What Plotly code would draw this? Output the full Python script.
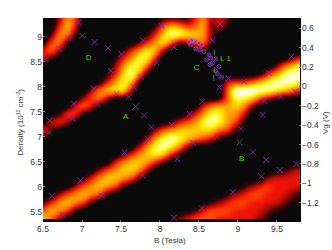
import numpy as np
import plotly.graph_objects as go

# Conductance map, levels 0-9 (rows top to bottom)
Z_ROWS = [
[0,0,2,5,4,0,0,0,0,0,0,0,0,0,0,1,1,1,1,3,5,2,3,2,0,0,0,0,0,0,0,0,0],
[0,0,3,6,3,0,0,0,0,0,0,0,0,0,1,4,6,5,3,4,6,1,3,1,0,0,0,0,0,0,0,0,0],
[0,1,5,5,1,0,0,0,0,0,0,0,0,1,3,6,8,8,7,6,5,2,0,0,0,0,0,0,0,0,0,0,0],
[0,4,5,1,0,0,0,0,0,0,0,0,1,3,5,7,4,1,2,4,5,1,0,0,0,0,0,0,0,0,0,0,0],
[3,5,2,0,0,0,0,0,0,0,1,3,5,7,6,2,0,0,0,0,1,0,0,0,0,0,0,0,0,0,0,0,0],
[3,1,0,0,0,0,0,0,0,1,3,5,7,7,3,0,0,0,0,0,0,0,0,0,0,0,0,0,0,0,0,1,3],
[0,0,0,0,0,0,0,0,0,2,5,7,7,4,0,0,0,0,0,0,0,0,0,0,0,0,0,0,0,1,4,6,7],
[0,0,0,0,0,0,0,0,1,3,6,8,5,0,0,0,0,0,0,0,0,0,0,0,0,0,0,0,3,5,7,8,8],
[0,0,0,0,0,0,0,0,3,5,7,6,0,0,0,0,0,0,0,0,0,0,0,3,3,3,4,6,7,8,8,8,7],
[0,0,0,0,0,0,2,5,6,7,7,2,0,0,0,0,0,0,0,0,0,0,0,4,9,9,9,8,8,7,6,5,3],
[0,0,0,0,0,2,4,5,2,0,0,0,0,0,0,0,0,0,0,0,0,0,0,4,7,7,6,4,2,1,0,0,0],
[0,0,0,0,3,5,3,0,0,0,0,0,0,0,0,0,0,0,0,0,3,5,6,5,6,5,2,0,0,0,0,0,0],
[0,0,1,4,4,0,0,0,0,0,0,0,0,0,0,0,0,0,1,3,5,7,7,5,5,3,0,0,0,0,0,0,0],
[0,3,4,2,0,0,0,0,0,0,0,0,0,0,0,0,1,3,4,5,7,8,7,5,4,1,0,0,0,0,0,0,0],
[4,1,0,0,0,0,0,0,0,0,0,0,0,0,2,4,5,6,6,6,6,6,4,4,1,0,0,0,0,0,0,0,0],
[1,0,0,0,0,0,0,0,0,0,0,0,0,2,5,7,8,7,6,5,4,3,1,0,0,0,0,0,0,0,0,0,0],
[0,0,0,0,0,0,0,0,0,0,0,0,2,5,7,8,7,5,2,0,0,0,0,0,0,0,0,0,0,0,0,0,0],
[0,0,0,0,0,0,0,0,0,0,1,3,5,6,7,6,3,1,0,0,0,0,0,0,0,0,0,0,0,0,0,0,0],
[0,0,0,0,0,0,0,0,0,3,5,6,6,5,3,1,0,0,0,0,0,0,0,0,0,0,0,0,0,0,0,0,0],
[0,0,0,0,0,0,0,2,4,5,6,6,5,2,0,0,0,0,0,0,0,0,0,0,0,0,0,0,0,0,1,2,3],
[0,0,0,0,0,1,3,5,6,6,5,4,1,0,0,0,0,0,0,0,0,0,0,0,0,0,0,0,2,3,3,3,3],
[0,0,0,0,2,4,5,6,5,4,1,0,0,0,0,0,0,0,0,0,0,0,0,0,0,1,2,3,4,3,3,3,3],
[0,0,2,4,5,6,5,4,1,0,0,0,0,0,0,0,0,0,0,0,0,0,0,1,2,3,4,4,3,3,3,2,1],
[1,3,5,6,5,4,1,0,0,0,0,0,0,0,0,0,0,0,0,0,0,1,2,3,4,4,3,3,3,3,2,1,1],
[4,6,5,4,1,0,0,0,0,0,0,0,0,0,0,0,0,0,0,1,3,4,4,4,3,3,3,3,2,1,1,0,0],
[6,4,2,0,0,0,0,0,0,0,0,0,0,0,0,0,1,2,3,4,4,4,3,3,3,3,3,2,1,0,0,0,0],
]

CROSS_B = [6.958,8.018,7.005,6.821,7.163,7.782,6.705,7.333,7.505,6.535,7.954,7.368,7.753,7.667,7.154,7.441,7.599,6.894,7.197,7.688,7.795,6.586,6.877,
           8.769,8.179,8.672,8.877,9.077,9.688,9.397,8.765,9.731,9.547,9.338,8.543,8.381,9.317,8.15,
           6.577,7.89,7.846,7.547,7.774,6.979,6.615,7.253,6.756,
           9.035,8.736,9.018,8.428,9.192,8.223,9.364,9.749,9.538,9.3,8.936,8.535,8.179]
CROSS_D = [9.286,9.22,9.02,8.974,8.894,8.926,8.754,8.774,8.654,8.554,8.486,8.32,8.194,7.986,7.96,7.86,7.794,7.66,7.654,7.606,7.426,7.326,7.366,
           9.254,8.794,8.926,8.166,8.106,8.606,8.274,7.986,7.906,7.806,7.726,7.706,7.46,7.44,7.24,
           7.086,7.194,6.96,6.686,6.226,6.126,5.82,5.826,5.44,
           7.16,7.006,6.886,6.874,6.694,6.56,6.54,6.46,6.334,6.214,5.894,5.574,5.386]
CLUSTER_B = [8.372,8.415,8.458,8.5,8.535,8.394,8.458,8.513,8.564,8.628,8.595,8.65,8.714,8.672,8.641,8.756,8.714,8.736,8.791]
CLUSTER_D = [8.894,8.926,8.906,8.874,8.84,8.84,8.76,8.74,8.706,8.64,8.54,8.574,8.554,8.474,8.44,8.406,8.326,8.26,8.194]
LABELS = ["A", "B", "C", "D", "L 1"]
LABEL_B = [7.56, 9.047, 8.47, 7.086, 8.84]
LABEL_D = [7.4, 6.56, 8.38, 8.58, 8.56]
MARK_B = [8.695, 8.695, 8.69]
MARK_D = [8.686, 8.34, 8.18]
B_TICKS = [6.5, 7, 7.5, 8, 8.5, 9, 9.5]
D_TICKS = [5.5, 6, 6.5, 7, 7.5, 8, 8.5, 9]
VG_TICKS = [0.6, 0.4, 0.2, 0, -0.2, -0.4, -0.6, -0.8, -1, -1.2]

b_grid = 6.5 + np.arange(33) * 8 / 78
d_grid = 9.38 - np.arange(26) * 0.16

# resample the hand-read levels onto a finer grid and soften the cell steps
z = np.array(Z_ROWS, float)
b_fine = np.linspace(b_grid[0], b_grid[-1], 129)
d_fine = np.linspace(d_grid[0], d_grid[-1], 101)
z = np.array([np.interp(b_fine, b_grid, row) for row in z])
z = np.array([np.interp(-d_fine, -d_grid, col) for col in z.T]).T
kernel = np.array([1, 3, 6, 7, 6, 3, 1], float)
kernel /= kernel.sum()
def soften(a):
    p = np.pad(a, (3, 3), mode="edge")
    return np.convolve(p, kernel, mode="valid")
z = np.apply_along_axis(soften, 0, z)
z = np.apply_along_axis(soften, 1, z)
z = np.clip((z - 0.6) * 1.25, 0, 9)

TXT = "#333333"
FONT = "Liberation Sans"
scale = [[0, "#0a0a0a"], [0.111, "#400505"], [0.222, "#a00a05"], [0.333, "#ee1208"], [0.444, "#ff4a00"],
         [0.556, "#ff8000"], [0.667, "#ffb400"], [0.778, "#ffe400"], [0.889, "#ffff55"], [1, "#ffffd8"]]

fig = go.Figure()
fig.add_trace(go.Heatmap(x=b_fine, y=d_fine, z=z, zmin=0, zmax=9, zsmooth="best",
                         colorscale=scale, showscale=False, hoverinfo="skip"))
fig.add_trace(go.Scatter(x=CROSS_B, y=CROSS_D, mode="markers",
                         marker=dict(symbol="x-thin", size=6, line=dict(color="#7b2cae", width=0.9))))
fig.add_trace(go.Scatter(x=CLUSTER_B, y=CLUSTER_D, mode="markers",
                         marker=dict(symbol="x-thin", size=3, line=dict(color="#7b2cae", width=0.8))))
fig.add_trace(go.Scatter(x=CLUSTER_B, y=CLUSTER_D, mode="markers",
                         marker=dict(symbol="circle-open", size=4, line=dict(color="#7b2cae", width=0.5))))
fig.add_trace(go.Scatter(x=MARK_B, y=MARK_D, mode="markers",
                         marker=dict(symbol="line-ns", size=4, line=dict(color="#4cae00", width=0.8))))
fig.add_trace(go.Scatter(x=LABEL_B, y=LABEL_D, mode="text", text=LABELS,
                         textfont=dict(family=FONT, size=8, color="#5fd000")))
fig.add_trace(go.Scatter(x=[6.5], y=[0], yaxis="y2", mode="markers", marker=dict(opacity=0), hoverinfo="skip"))

title_style = dict(xref="paper", yref="paper", showarrow=False, xanchor="center", yanchor="middle",
                   font=dict(family=FONT, size=8, color=TXT))
fig.update_layout(
    width=332, height=250, autosize=False, showlegend=False,
    margin=dict(l=43, r=31, t=18, b=28),
    paper_bgcolor="white", plot_bgcolor="#0a0a0a",
    font=dict(family=FONT, size=8, color=TXT),
    xaxis=dict(range=[6.5, 9.808], tickvals=B_TICKS, ticks="inside", ticklen=2, tickcolor="#777777",
               showgrid=False, zeroline=False, tickfont=dict(size=8.5, color=TXT)),
    yaxis=dict(range=[5.3, 9.374], tickvals=D_TICKS, ticks="inside", ticklen=2, tickcolor="#777777",
               showgrid=False, zeroline=False, tickfont=dict(size=8.5, color=TXT)),
    yaxis2=dict(range=[-1.399, 0.7055], overlaying="y", side="right", tickvals=VG_TICKS, ticks="inside",
                ticklen=2, tickcolor="#777777", showgrid=False, zeroline=False, tickfont=dict(size=8.5, color=TXT)),
    annotations=[
        dict(text="B (Tesla)", x=0.491, y=-0.09, **title_style),
        dict(text="Density (10<sup>11</sup> cm<sup>-2</sup>)", x=-0.09, y=0.49, textangle=-90, **title_style),
        dict(text="Vg (V)", x=1.093, y=0.49, textangle=-90, **title_style),
    ],
)
fig.write_html("out.html", config={"displayModeBar": False},
               post_script="document.body.style.margin='0';document.body.style.overflow='hidden';")
